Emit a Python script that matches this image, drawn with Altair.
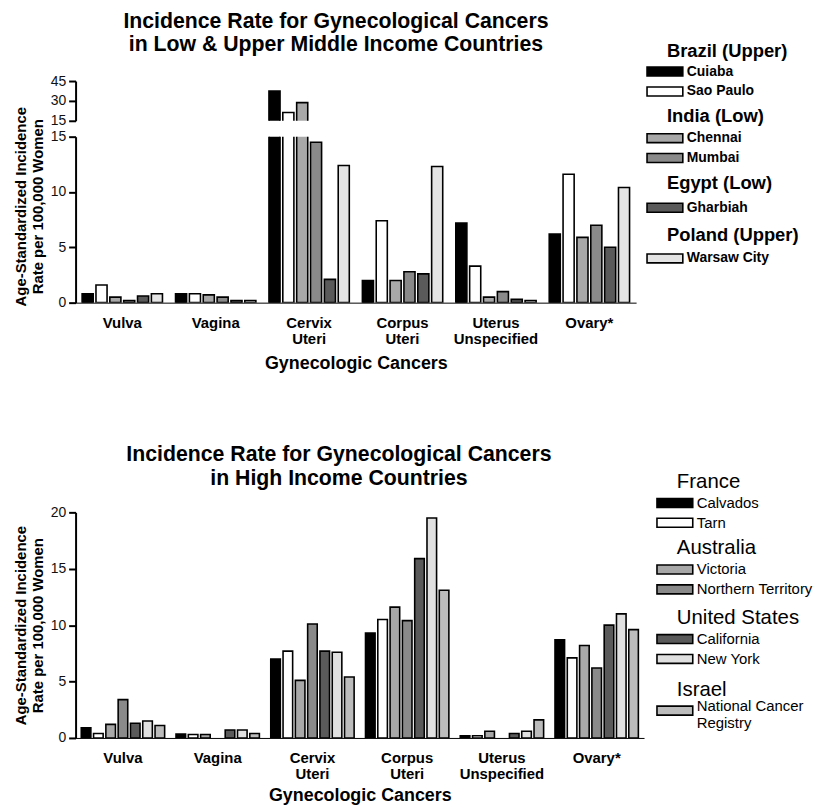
import altair as alt
import pandas as pd

FONT = "Liberation Sans"

cancers = ["Vulva", "Vagina", "Cervix Uteri", "Corpus Uteri", "Uterus Unspecified", "Ovary*"]

# ---- Low & upper middle income countries ----
low_countries = ["Brazil (Upper)", "India (Low)", "Egypt (Low)", "Poland (Upper)"]
low_registries = ["Cuiaba", "Sao Paulo", "Chennai", "Mumbai", "Gharbiah", "Warsaw City"]
low_registry_country = ["Brazil (Upper)", "Brazil (Upper)", "India (Low)", "India (Low)",
                        "Egypt (Low)", "Poland (Upper)"]
cuiaba = [0.8, 0.8, 37.5, 2.0, 7.2, 6.2]
sao_paulo = [1.6, 0.8, 21.2, 7.4, 3.3, 11.6]
chennai = [0.5, 0.7, 28.7, 2.0, 0.5, 5.9]
mumbai = [0.2, 0.5, 14.5, 2.8, 1.0, 7.0]
gharbiah = [0.6, 0.2, 2.1, 2.6, 0.3, 5.0]
warsaw_city = [0.8, 0.2, 12.4, 12.3, 0.2, 10.4]
low_fills = ["#000000", "#ffffff", "#a8a8a8", "#8a8a8a", "#5a5a5a", "#e4e4e4"]

# ---- High income countries ----
high_countries = ["France", "Australia", "United States", "Israel"]
high_registries = ["Calvados", "Tarn", "Victoria", "Northern Territory", "California",
                   "New York", "National Cancer Registry"]
high_registry_country = ["France", "France", "Australia", "Australia", "United States",
                         "United States", "Israel"]
calvados = [0.9, 0.35, 7.0, 9.3, 0.2, 8.7]
tarn = [0.4, 0.3, 7.7, 10.5, 0.2, 7.1]
victoria = [1.2, 0.3, 5.1, 11.6, 0.6, 8.2]
northern_territory = [3.4, None, 10.1, 10.4, None, 6.2]
california = [1.3, 0.7, 7.7, 15.9, 0.4, 10.0]
new_york = [1.5, 0.7, 7.6, 19.5, 0.6, 11.0]
israel_ncr = [1.1, 0.4, 5.4, 13.1, 1.6, 9.6]
high_fills = ["#000000", "#ffffff", "#a8a8a8", "#8a8a8a", "#5a5a5a", "#e0e0e0", "#bcbcbc"]

y_title = ["Age-Standardized Incidence", "Rate per 100,000 Women"]
x_title = "Gynecologic Cancers"
low_title = ["Incidence Rate for Gynecological Cancers", "in Low & Upper Middle Income Countries"]
high_title = ["Incidence Rate for Gynecological Cancers", "in High Income Countries"]


def long_frame(registries, countries, series):
    rows = []
    for reg, ctry, vals in zip(registries, countries, series):
        for cancer, v in zip(cancers, vals):
            if v is not None:
                rows.append({"cancer": cancer, "registry": reg, "country": ctry, "rate": v})
    return pd.DataFrame(rows)


low_df = long_frame(low_registries, low_registry_country,
                    [cuiaba, sao_paulo, chennai, mumbai, gharbiah, warsaw_city])
high_df = long_frame(high_registries, high_registry_country,
                     [calvados, tarn, victoria, northern_territory, california, new_york, israel_ncr])

SYMBOL = "M-3.333,-0.5H0.667V0.5H-3.333Z"


def x_axis(title_pad):
    return alt.Axis(title=x_title, labelAngle=0, labelExpr="split(datum.label, ' ')",
                    ticks=False, tickSize=0, labelPadding=20, labelBaseline="middle",
                    labelFontSize=15, labelFontWeight="bold", labelLineHeight=16,
                    labelColor="black", titleFontSize=18, titleFontWeight="bold",
                    titlePadding=title_pad)


def y_axis(values, title=None, title_y=None):
    kw = dict(values=values, tickSize=7, labelPadding=3, labelFontSize=14,
              domainWidth=2, tickWidth=2)
    if title is not None:
        kw.update(title=title, titleFontSize=15, titleFontWeight="bold",
                  titleLineHeight=17, titlePadding=5)
        if title_y is not None:
            kw["titleY"] = title_y
    else:
        kw["title"] = None
    return alt.Axis(**kw)


def legend(title, lx, ly, tsize, tweight, lsize, lweight, tpad, **extra):
    return alt.Legend(title=title, orient="none", legendX=lx, legendY=ly, direction="vertical",
                      symbolType=SYMBOL, symbolSize=324, symbolStrokeColor="black",
                      symbolStrokeWidth=1.6, titleFontSize=tsize, titleFontWeight=tweight,
                      titleAnchor="start", titleAlign="left", titlePadding=tpad,
                      titleColor="black", titleFont=FONT, titleLimit=300,
                      labelFontSize=lsize, labelFontWeight=lweight, labelFont=FONT,
                      labelColor="black", labelOffset=0, rowPadding=2, padding=0,
                      labelLimit=200, **extra)


def bar_layers(df, registries, reg_country, countries, fills, ydomain, yaxis, xaxis,
               legends, pi, po, opi):
    layers = []
    for i, ctry in enumerate(countries):
        regs = [r for r, c in zip(registries, reg_country) if c == ctry]
        cols = [f for f, c in zip(fills, reg_country) if c == ctry]
        layers.append(
            alt.Chart(df[df.country == ctry]).mark_bar(
                stroke="black", strokeWidth=1.6, clip=True
            ).encode(
                x=alt.X("cancer:N", scale=alt.Scale(domain=cancers, paddingInner=pi, paddingOuter=po),
                        axis=xaxis),
                xOffset=alt.XOffset("registry:N",
                                    scale=alt.Scale(domain=registries, paddingInner=opi,
                                                    paddingOuter=0)),
                y=alt.Y("rate:Q", scale=alt.Scale(domain=ydomain, nice=False, zero=False),
                        axis=yaxis),
                fill=alt.Fill("registry:N", scale=alt.Scale(domain=regs, range=cols),
                              legend=legends[i]),
            )
        )
    return alt.layer(*layers).resolve_scale(fill="independent")


# --- top chart: broken axis (upper 15-45, lower 0-15) ---
upper = alt.Chart(low_df[low_df.rate > 15]).mark_bar(
    stroke="black", strokeWidth=1.6, clip=True
).encode(
    x=alt.X("cancer:N", scale=alt.Scale(domain=cancers, paddingInner=0.14, paddingOuter=0.07),
            axis=None),
    xOffset=alt.XOffset("registry:N", scale=alt.Scale(domain=low_registries, paddingInner=0.2,
                                                      paddingOuter=0)),
    y=alt.Y("rate:Q", scale=alt.Scale(domain=[15, 45], nice=False, zero=False),
            axis=y_axis([15, 30, 45])),
    fill=alt.Fill("registry:N", scale=alt.Scale(domain=low_registries, range=low_fills),
                  legend=None),
).properties(
    width=564, height=40,
    title=alt.TitleParams(text=low_title, fontSize=21.4, fontWeight="bold", lineHeight=23,
                          anchor="middle", frame="group", dx=-20, offset=19, font=FONT,
                          color="black"),
)

low_legends = [
    legend("Brazil (Upper)", 595, -95, 18.5, "bold", 14, "bold", 1),
    legend("India (Low)", 595, -30, 18.5, "bold", 14, "bold", 3),
    legend("Egypt (Low)", 595, 38, 18.5, "bold", 14, "bold", 5),
    legend("Poland (Upper)", 595, 90, 18.5, "bold", 14, "bold", 4),
]

lower = bar_layers(low_df, low_registries, low_registry_country, low_countries, low_fills,
                   [0, 15], y_axis([0, 5, 10, 15], y_title, 70), x_axis(8), low_legends,
                   0.14, 0.07, 0.2).properties(width=564, height=167)

spacer = alt.Chart(pd.DataFrame({"v": [0]})).mark_point(opacity=0).encode(
    x=alt.value(0), y=alt.value(0)
).properties(width=564, height=179)

high_legends = [
    legend("France", 605, -40, 20.5, "normal", 15, "normal", 0),
    legend("Australia", 605, 26, 20.5, "normal", 15, "normal", 1),
    legend("United States", 605, 96, 20.5, "normal", 15, "normal", 1),
    legend("Israel", 605, 169, 20.5, "normal", 15, "normal", 0,
           labelExpr="[join(slice(split(datum.label, ' '), 0, 2), ' '), join(slice(split(datum.label, ' '), 2), ' ')]",
           labelBaseline="alphabetic"),
]

bottom = bar_layers(high_df, high_registries, high_registry_country, high_countries, high_fills,
                    [0, 20], y_axis([0, 5, 10, 15, 20], y_title), x_axis(5), high_legends,
                    0.12, 0.06, 0.22).properties(
    width=572, height=227,
    title=alt.TitleParams(text=high_title, fontSize=21.4, fontWeight="bold", lineHeight=24,
                          anchor="middle", frame="group", dx=-21, dy=31, offset=14, font=FONT,
                          color="black"),
)

chart = alt.vconcat(upper, lower, spacer, bottom, spacing=16, bounds="flush").resolve_scale(
    fill="independent", xOffset="independent"
).properties(
    padding={"left": 5, "top": 0, "right": 0, "bottom": 0}
).configure(font=FONT).configure_view(stroke=None).configure_axis(
    grid=False, domainColor="black", tickColor="black", labelColor="#111",
    titleColor="black", labelFont=FONT, titleFont=FONT
)

chart.save("out.html", embed_options={"renderer": "svg", "actions": False})
